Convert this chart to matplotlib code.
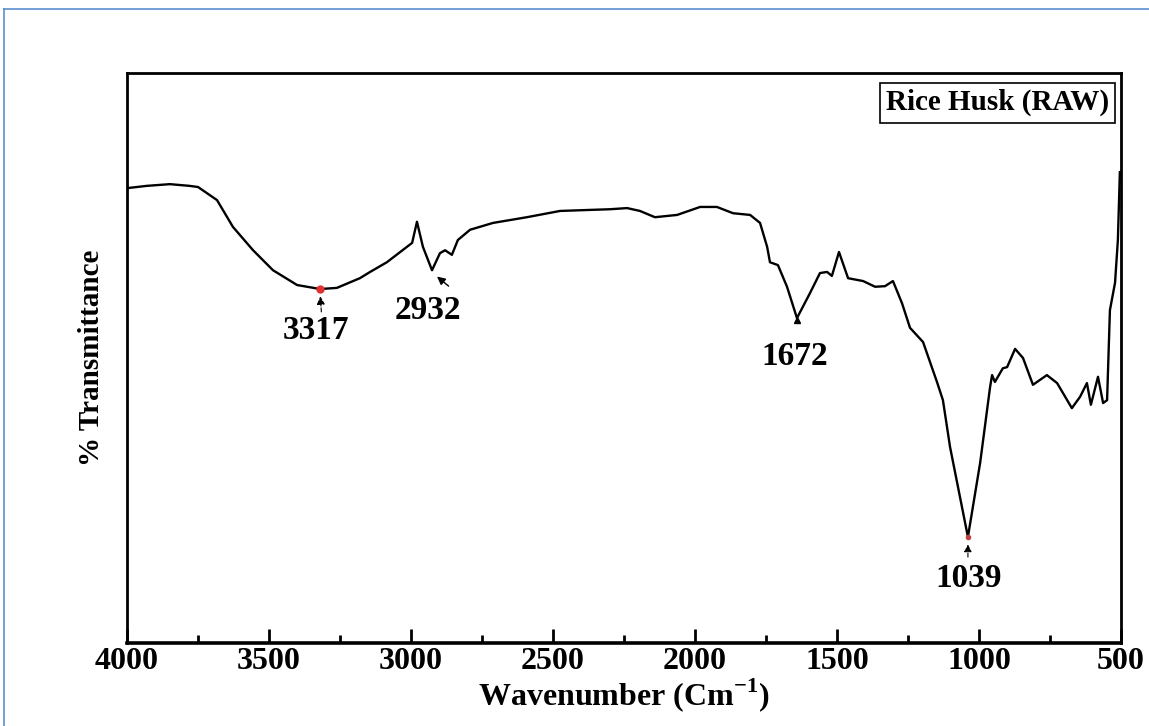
import matplotlib
matplotlib.use("Agg")
import matplotlib.pyplot as plt
from matplotlib.ticker import MultipleLocator
from matplotlib.lines import Line2D

# ---- data ----
wavenumber = [4000, 3930, 3849, 3780, 3750, 3683, 3627, 3556, 3486, 3401, 3320, 3261,
              3180, 3144, 3085, 2996, 2979, 2958, 2926, 2898, 2880, 2856, 2835, 2792,
              2711, 2592, 2475, 2299, 2239, 2194, 2141, 2063, 1982, 1923, 1866, 1806,
              1771, 1746, 1736, 1708, 1676, 1641, 1595, 1560, 1535, 1518, 1493, 1461,
              1408, 1366, 1331, 1303, 1271, 1243, 1197, 1148, 1127, 1102, 1039, 996,
              961, 954, 944, 916, 901, 873, 845, 810, 761, 725, 673, 644, 620, 606,
              581, 563, 549, 539, 521, 511, 504]
transmittance = [79.8, 80.2, 80.5, 80.2, 80.0, 77.7, 73.0, 68.9, 65.4, 62.8, 62.1, 62.3,
                 64.0, 65.1, 66.8, 70.2, 73.9, 69.5, 65.4, 68.4, 68.9, 68.1, 70.7, 72.5,
                 73.7, 74.7, 75.8, 76.1, 76.3, 75.8, 74.7, 75.1, 76.5, 76.5, 75.4, 75.1,
                 73.7, 69.5, 66.8, 66.3, 62.5, 57.0, 61.4, 64.9, 65.1, 64.4, 68.6, 64.0,
                 63.5, 62.5, 62.6, 63.5, 59.6, 55.3, 52.8, 45.8, 42.6, 34.4, 18.6, 31.6,
                 44.9, 47.0, 45.8, 48.2, 48.4, 51.6, 50.0, 45.3, 47.0, 45.6, 41.2, 43.2,
                 45.6, 41.8, 46.7, 42.1, 42.6, 58.4, 63.2, 70.7, 82.6]

peak_labels = ["3317", "2932", "1672", "1039"]
peak_pos = [3320, 2916, 1641, 1039]
peak_T = [62.1, 65.1, 57.0, 18.6]
label_pos = [(3335, 54.9), (2940, 58.3), (1648, 50.2), (1036, 11.4)]

xticks = [4000, 3500, 3000, 2500, 2000, 1500, 1000, 500]
legend_text = "Rice Husk (RAW)"

# ---- figure ----
FONT = ["Liberation Serif", "DejaVu Serif"]
plt.rcParams['font.family'] = FONT
plt.rcParams['font.weight'] = 'bold'
plt.rcParams['mathtext.fontset'] = 'custom'
plt.rcParams['mathtext.rm'] = 'Liberation Serif:bold'
plt.rcParams['mathtext.bf'] = 'Liberation Serif:bold'

fig = plt.figure(figsize=(11.49, 7.26), dpi=100)
ax = fig.add_axes([127/1149, 1-643/726, (1121-127)/1149, (643-73)/726])

ax.plot(wavenumber, transmittance, color='black', lw=1.7)

ax.set_xlim(4000, 500)
ax.set_ylim(0, 100)
ax.set_xticks(xticks)
ax.set_xticklabels([str(t) for t in xticks], fontsize=23, fontweight='bold')
ax.xaxis.set_minor_locator(MultipleLocator(250))
ax.tick_params(axis='x', which='major', direction='in', length=10, width=2, pad=3)
ax.tick_params(axis='x', which='minor', direction='in', length=6, width=2)
ax.set_yticks([])
for s in ax.spines.values():
    s.set_linewidth(2)
ax.spines['bottom'].set_linewidth(2.6)

ax.set_xlabel(r"Wavenumber (Cm$^{\mathbf{-1}}$)", fontsize=23, fontweight='bold',
              labelpad=0)
ax.set_ylabel("% Transmittance", fontsize=21, fontweight='bold', labelpad=16)

# peak markers / labels
ax.plot([peak_pos[0]], [peak_T[0]], 'o', color='#e03030', ms=5, zorder=5)
ax.plot([peak_pos[3]], [peak_T[3]], 'o', color='#c04040', ms=3, zorder=5)
for lab, (lx, ly) in zip(peak_labels, label_pos):
    ax.text(lx, ly, lab, ha='center', va='center', fontsize=24, fontweight='bold')

ax.annotate("", xy=(peak_pos[0], peak_T[0] - 0.8), xytext=(peak_pos[0] - 5, 57.6),
            arrowprops=dict(arrowstyle='-|>', color='black', lw=0.8, ls='--',
                            mutation_scale=12))
ax.annotate("", xy=(peak_pos[1], peak_T[1] - 0.5), xytext=(2860, 62.3),
            arrowprops=dict(arrowstyle='-|>', color='black', lw=1.0,
                            mutation_scale=12))
ax.plot([peak_pos[2]], [peak_T[2] - 0.3], marker='^', color='black', ms=5, zorder=5)
ax.annotate("", xy=(peak_pos[3], peak_T[3] - 0.8), xytext=(peak_pos[3], 14.6),
            arrowprops=dict(arrowstyle='-|>', color='black', lw=0.8, ls='--',
                            mutation_scale=11))

ax.text(0.988, 0.972, legend_text, transform=ax.transAxes, ha='right', va='top',
        fontsize=21, fontweight='bold',
        bbox=dict(boxstyle='square,pad=0.22', fc='white', ec='black', lw=1.2))

# blue frame around the picture
fig.add_artist(Line2D([4/1149, 4/1149], [0, 1-9/726], transform=fig.transFigure,
                      color='#5b8fd0', lw=1.2))
fig.add_artist(Line2D([4/1149, 1], [1-9/726, 1-9/726], transform=fig.transFigure,
                      color='#5b8fd0', lw=1.2))

fig.savefig("out.png", dpi=100, facecolor='white')
